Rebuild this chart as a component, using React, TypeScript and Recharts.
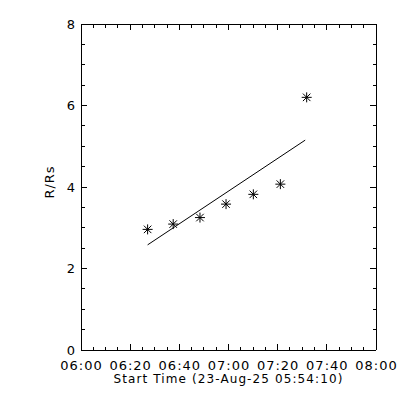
import React from 'react';
import { ComposedChart, XAxis, YAxis, Scatter, Line, Label } from 'recharts';

// minutes after 06:00
const startMinutes = [27.1, 37.5, 48.4, 59.0, 70.1, 81.1, 91.8];
const heights = [2.96, 3.09, 3.25, 3.58, 3.82, 4.07, 6.2];

// linear fit drawn across the points
const fitMinutes = [27.1, 91.2];
const fitHeights = [2.58, 5.15];

const xTicks = [0, 5, 10, 15, 20, 25, 30, 35, 40, 45, 50, 55, 60, 65, 70, 75, 80, 85, 90, 95, 100, 105, 110, 115, 120];
const xMajorLabels = ['06:00', '06:20', '06:40', '07:00', '07:20', '07:40', '08:00'];
const yTicks = [0, 0.5, 1, 1.5, 2, 2.5, 3, 3.5, 4, 4.5, 5, 5.5, 6, 6.5, 7, 7.5, 8];
const yMajorLabels = ['0', '2', '4', '6', '8'];

const points = startMinutes.map((x, i) => ({ x, y: heights[i] }));
const fit = fitMinutes.map((x, i) => ({ x, y: fitHeights[i] }));

const FONT = '"DejaVu Sans", sans-serif';
const MAJOR = 6;
const MINOR = 3.5;
const AXIS = { stroke: '#000', shapeRendering: 'crispEdges' };

const xLabel = (v: number) => (v % 20 === 0 ? xMajorLabels[v / 20] : null);
const yLabel = (v: number) => (v % 2 === 0 ? yMajorLabels[v / 2] : null);

const BottomTick = (props: any) => {
  const { x, y, payload } = props;
  const txt = xLabel(payload.value);
  return (
    <g>
      <line x1={x} x2={x} y1={y} y2={y - (txt ? MAJOR : MINOR)} stroke="#000" shapeRendering="crispEdges" />
      {txt && (
        <text x={x + 0.5} y={y + 20} textAnchor="middle" fontSize={13} letterSpacing={1} fontFamily={FONT} fill="#000">
          {txt}
        </text>
      )}
    </g>
  );
};

const TopTick = (props: any) => {
  const { x, y, payload } = props;
  const len = payload.value % 20 === 0 ? MAJOR : MINOR;
  return <line x1={x} x2={x} y1={y} y2={y + len} stroke="#000" shapeRendering="crispEdges" />;
};

const LeftTick = (props: any) => {
  const { x, y, payload } = props;
  const txt = yLabel(payload.value);
  return (
    <g>
      <line x1={x} x2={x + (txt ? MAJOR : MINOR)} y1={y} y2={y} stroke="#000" shapeRendering="crispEdges" />
      {txt && (
        <text x={x - 6} y={y + 4.5} textAnchor="end" fontSize={13} fontFamily={FONT} fill="#000">
          {txt}
        </text>
      )}
    </g>
  );
};

const RightTick = (props: any) => {
  const { x, y, payload } = props;
  const len = payload.value % 2 === 0 ? MAJOR : MINOR;
  return <line x1={x} x2={x - len} y1={y} y2={y} stroke="#000" shapeRendering="crispEdges" />;
};

const Asterisk = (props: any) => {
  const { cx, cy } = props;
  const r = 5;
  const d = r * 0.75;
  return (
    <g stroke="#000" strokeWidth={1}>
      <line x1={cx - r} x2={cx + r} y1={cy} y2={cy} />
      <line x1={cx} x2={cx} y1={cy - r} y2={cy + r} />
      <line x1={cx - d} x2={cx + d} y1={cy - d} y2={cy + d} />
      <line x1={cx - d} x2={cx + d} y1={cy + d} y2={cy - d} />
    </g>
  );
};

const Nothing = () => <g />;

const YTitle = (props: any) => {
  const { viewBox } = props;
  const cx = 54;
  const cy = viewBox.y + viewBox.height / 2 - 5;
  return (
    <text x={cx} y={cy} transform={`rotate(-90 ${cx} ${cy})`} textAnchor="middle" fontSize={13} letterSpacing={1} fontFamily={FONT} fill="#000">
      R/Rs
    </text>
  );
};

export default function App() {
  return (
    <div style={{ position: 'absolute', left: 0, top: 0, background: '#fff' }}>
      <ComposedChart width={400} height={400} margin={{ top: 23, right: 23, bottom: 0, left: 0 }}>
        <XAxis
          xAxisId="b"
          dataKey="x"
          type="number"
          domain={[0, 120]}
          ticks={xTicks}
          interval={0}
          height={50}
          tickSize={0}
          tickMargin={0}
          tick={<BottomTick />}
          axisLine={AXIS}
          allowDataOverflow
        >
          <Label
            value="Start Time (23-Aug-25 05:54:10)"
            position="insideBottom"
            offset={17}
            fontSize={12}
            letterSpacing={1.1}
            fontFamily={FONT}
            fill="#000"
          />
        </XAxis>
        <XAxis
          xAxisId="t"
          orientation="top"
          dataKey="x"
          type="number"
          domain={[0, 120]}
          ticks={xTicks}
          interval={0}
          height={1}
          tickSize={0}
          tickMargin={0}
          tick={<TopTick />}
          axisLine={AXIS}
        />
        <YAxis
          yAxisId="l"
          type="number"
          domain={[0, 8]}
          ticks={yTicks}
          interval={0}
          width={81}
          tickSize={0}
          tickMargin={0}
          tick={<LeftTick />}
          axisLine={AXIS}
          label={<YTitle />}
        />
        <YAxis
          yAxisId="r"
          orientation="right"
          type="number"
          domain={[0, 8]}
          ticks={yTicks}
          interval={0}
          width={1}
          tickSize={0}
          tickMargin={0}
          tick={<RightTick />}
          axisLine={AXIS}
        />
        <Line
          xAxisId="b"
          yAxisId="l"
          data={fit}
          dataKey="y"
          type="linear"
          stroke="#000"
          strokeWidth={1}
          dot={false}
          activeDot={false}
          isAnimationActive={false}
        />
        <Scatter
          xAxisId="b"
          yAxisId="l"
          data={points}
          dataKey="y"
          shape={<Asterisk />}
          isAnimationActive={false}
        />
        {/* invisible copy so the top / right frame axes get ticks */}
        <Scatter
          xAxisId="t"
          yAxisId="r"
          data={points}
          dataKey="y"
          shape={<Nothing />}
          isAnimationActive={false}
        />
      </ComposedChart>
    </div>
  );
}
